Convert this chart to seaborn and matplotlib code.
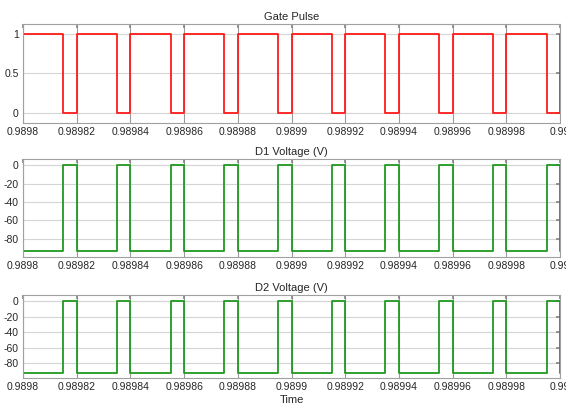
import matplotlib
matplotlib.use("Agg")
import matplotlib.pyplot as plt
import seaborn as sns
import pandas as pd

# ---- data ----
rise_times = [0.98980, 0.98982, 0.98984, 0.98986, 0.98988, 0.98990,
              0.98992, 0.98994, 0.98996, 0.98998, 0.99000]
fall_times = [0.989815, 0.989835, 0.989855, 0.989875, 0.989895,
              0.989915, 0.989935, 0.989955, 0.989975, 0.989995]
gate_high, gate_low = 1.0, 0.0
d1_on, d1_off = -93.0, 0.0   # D1 voltage when gate high / low
d2_on, d2_off = -93.0, 0.0   # D2 voltage when gate high / low

x_ticks = [0.9898, 0.98982, 0.98984, 0.98986, 0.98988, 0.9899,
           0.98992, 0.98994, 0.98996, 0.98998, 0.99]
x_tick_labels = ["0.9898", "0.98982", "0.98984", "0.98986", "0.98988", "0.9899",
                 "0.98992", "0.98994", "0.98996", "0.98998", "0.99"]
titles = ["Gate Pulse", "D1 Voltage (V)", "D2 Voltage (V)"]


def waveform(high, low):
    edges = sorted([(t, 1) for t in rise_times] + [(t, 0) for t in fall_times])
    xs, ys = [], []
    state = 0
    for t, s in edges:
        xs += [t, t]
        ys += [high if state else low, high if s else low]
        state = s
    return pd.DataFrame({"Time": xs, "Value": ys})


sns.set_theme(style="white")
plt.rcParams["font.family"] = ["Liberation Sans", "DejaVu Sans"]
tick_family = ["Liberation Sans Narrow", "Liberation Sans", "DejaVu Sans"]

fig = plt.figure(figsize=(5.66, 4.07), dpi=100)
left, width = 23 / 566, 537 / 566
boxes = [(24, 123), (159, 257), (295, 378)]
axes = [fig.add_axes([left, 1 - b / 407, width, (b - t) / 407]) for t, b in boxes]

specs = [
    (waveform(gate_high, gate_low), "#ff1a1a", (-0.13, 1.12), [0, 0.5, 1], ["0", "0.5", "1"]),
    (waveform(d1_on, d1_off), "#1f9a1f", (-100, 7), [-80, -60, -40, -20, 0],
     ["-80", "-60", "-40", "-20", "0"]),
    (waveform(d2_on, d2_off), "#1f9a1f", (-99, 8), [-80, -60, -40, -20, 0],
     ["-80", "-60", "-40", "-20", "0"]),
]

for ax, (df, color, ylim, yt, ytl), title in zip(axes, specs, titles):
    sns.lineplot(data=df, x="Time", y="Value", sort=False, estimator=None,
                 color=color, linewidth=1.3, ax=ax)
    ax.set_xlim(0.9898, 0.99)
    ax.set_ylim(*ylim)
    ax.set_yticks(yt)
    ax.set_yticklabels(ytl, family=tick_family, fontsize=7.5)
    ax.set_xticks(x_ticks)
    ax.set_xticklabels(x_tick_labels, family=tick_family, fontsize=7.5)
    ax.tick_params(axis="both", direction="in", length=3,
                   top=True, right=True, color="#888888", pad=3)
    ax.grid(axis="y", color="#d4d4d4", linewidth=0.8)
    ax.grid(axis="x", color="#9a9a9a", linewidth=0.8)
    ax.set_axisbelow(True)
    for sp in ax.spines.values():
        sp.set_color("#a0a0a0")
        sp.set_linewidth(0.8)
    ax.set_title(title, fontsize=8, pad=3)
    ax.set_ylabel("")
    ax.set_xlabel("")

axes[-1].set_xlabel("Time", fontsize=8, labelpad=2)

fig.savefig("out.png", dpi=100)
